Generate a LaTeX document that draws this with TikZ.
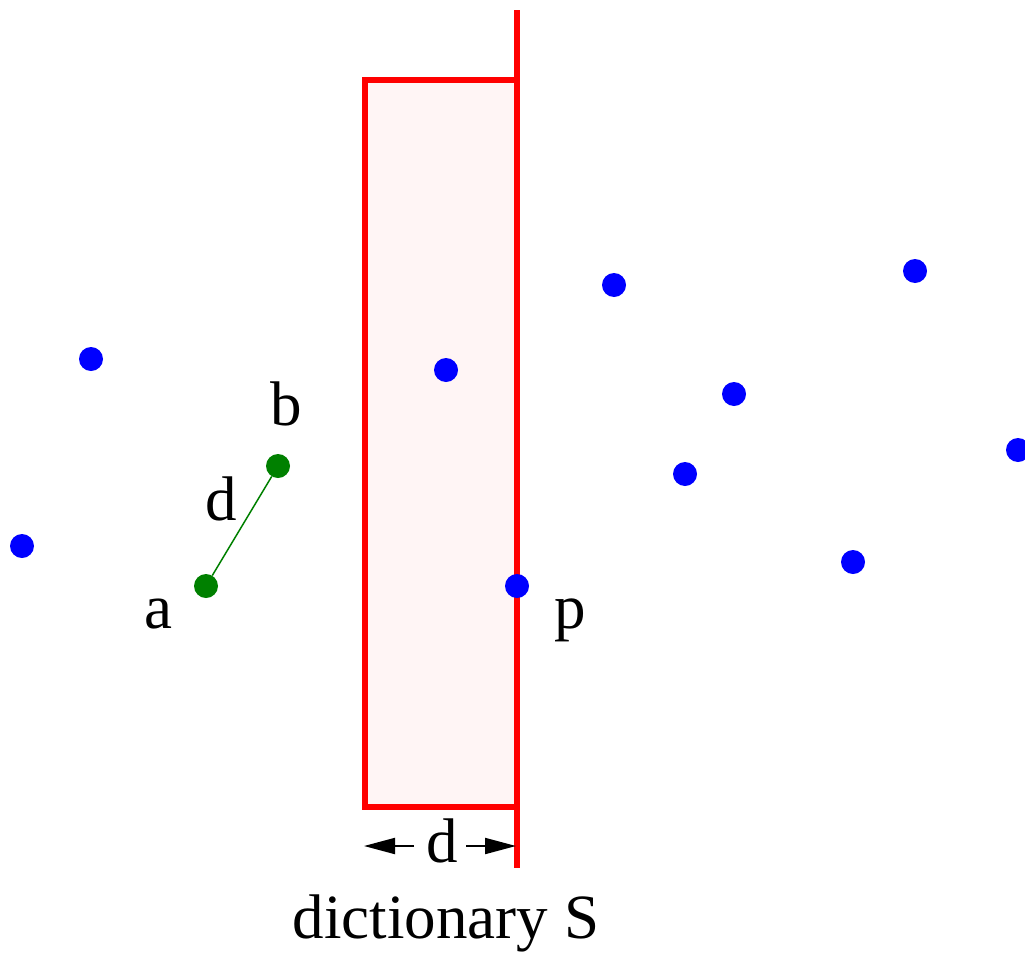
\documentclass[tikz,border=0pt]{standalone}
\usepackage{fontspec}
\setmainfont{Liberation Serif}
\usetikzlibrary{arrows.meta}
\begin{document}
\begin{tikzpicture}[x=1pt,y=-1pt,
  bdot/.style={circle,fill=blue,inner sep=0pt,minimum size=24pt},
  gdot/.style={circle,fill=green!50!black,inner sep=0pt,minimum size=24pt},
  lab/.style={font=\fontsize{63}{63}\selectfont,inner sep=0pt,anchor=base},
  redline/.style={draw=red,line width=6pt},
  dim/.style={line width=2pt,-{Triangle[length=31pt,width=16pt]}}]
\useasboundingbox (0,0) rectangle (1025,953);
\begin{scope}
\clip (0,0) rectangle (1025,953);
% box
\fill[red!4] (365,80) rectangle (517,807);
\draw[redline,line join=miter] (517,80) -- (365,80) -- (365,807) -- (517,807);
\draw[redline] (517,10) -- (517,868);
% blue points
\node[bdot] (q1) at (91,359) {};
\node[bdot] (q2) at (22,546) {};
\node[bdot] (q3) at (446,370) {};
\node[bdot] (q4) at (614,285) {};
\node[bdot] (q5) at (915,271) {};
\node[bdot] (q6) at (734,394) {};
\node[bdot] (q7) at (685,474) {};
\node[bdot] (q8) at (853,562) {};
\node[bdot] (q9) at (1018,450) {};
\node[bdot] (p) at (517,586) {};
% green pair
\node[gdot] (a) at (206,586) {};
\node[gdot] (b) at (278,466) {};
\draw[green!50!black,line width=1.5pt] (a) -- (b);
\end{scope}
% labels
\node[lab] (la) at (158,628) {a};
\node[lab] (lb) at (286,425) {b};
\node[lab] (ld) at (221,520) {d};
\node[lab] (lp) at (570,628) {p};
\node[lab] (dd) at (442,862) {d};
\coordinate (dl) at (364,846);
\coordinate (dr) at (516,846);
\coordinate (dls) at (414,846);
\coordinate (drs) at (466,846);
\draw[dim] (dls) -- (dl);
\draw[dim] (drs) -- (dr);
\node[lab] (dict) at (446,938) {dictionary S};
\end{tikzpicture}
\end{document}
